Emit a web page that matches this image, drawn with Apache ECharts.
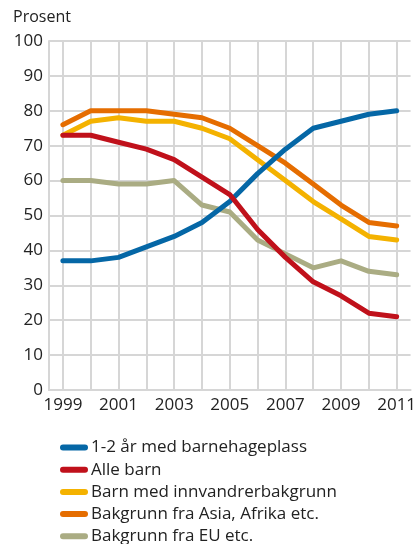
<!DOCTYPE html>
<html><head><meta charset="utf-8">
<script src="https://cdn.jsdelivr.net/npm/echarts@6/dist/echarts.min.js"></script>
<style>html,body{margin:0;padding:0;background:#fff}#c{width:419px;height:544px}</style>
</head><body><div id="c"></div>
<script>
const years = ['1999','2000','2001','2002','2003','2004','2005','2006','2007','2008','2009','2010','2011'];
const yTicks = [0,10,20,30,40,50,60,70,80,90,100];
const barnehage = [37,37,38,41,44,48,54,62,69,75,77,79,80];
const alleBarn = [73,73,71,69,66,61,56,46,38,31,27,22,21];
const innvandrer = [73,77,78,77,77,75,72,66,60,54,49,44,43];
const asiaAfrika = [76,80,80,80,79,78,75,70,65,59,53,48,47];
const eu = [60,60,59,59,60,53,51,43,39,35,37,34,33];
const names = ['1-2 år med barnehageplass','Alle barn','Barn med innvandrerbakgrunn','Bakgrunn fra Asia, Afrika etc.','Bakgrunn fra EU etc.'];
const colors = {blue:'#0567a6', red:'#c0111b', yellow:'#f4b200', orange:'#e56d00', olive:'#aaac83'};

const FONT = '"Open Sans", sans-serif';
const chart = echarts.init(document.getElementById('c'), null, {renderer:'canvas'});
function s(name, data, color){
  return {name, type:'line', data, symbol:'none', smooth:false, color,
    lineStyle:{width:5, color, cap:'round', join:'round'}, emphasis:{disabled:true}, animation:false};
}
const icon = 'path://M3,0 L25,0 A3,3 0 0 1 25,6 L3,6 A3,3 0 0 1 3,0 Z';
chart.setOption({
  animation:false,
  title:{text:'Prosent', left:8, top:4, textStyle:{fontFamily:FONT, fontSize:16, fontWeight:'normal', color:'#222'}},
  grid:{left:49, right:6, top:41, bottom:154, containLabel:false},
  xAxis:{type:'category', data:years, boundaryGap:true,
    axisLine:{show:true, lineStyle:{color:'#d6d6d6', width:2}},
    axisTick:{show:false},
    axisLabel:{interval:1, margin:7, fontFamily:FONT, fontSize:17, color:'#222'},
    splitLine:{show:true, interval:0, alignWithLabel:true, lineStyle:{color:'#d6d6d6', width:2}}},
  yAxis:{type:'value', min:yTicks[0], max:yTicks[yTicks.length-1], interval:10,
    axisLine:{show:true, lineStyle:{color:'#d6d6d6', width:2}},
    axisTick:{show:false},
    axisLabel:{margin:6, fontFamily:FONT, fontSize:17, color:'#222'},
    splitLine:{show:true, lineStyle:{color:'#d6d6d6', width:2}}},
  legend:{orient:'vertical', left:60, top:439, height:200, padding:0, itemWidth:28, itemHeight:6, itemGap:5.2, icon,
    data:names, selectedMode:false,
    textStyle:{fontFamily:FONT, fontSize:17, color:'#222', lineHeight:17, padding:[0,0,0,-2]}},
  series:[
    s(names[4], eu, colors.olive),
    s(names[3], asiaAfrika, colors.orange),
    s(names[2], innvandrer, colors.yellow),
    s(names[0], barnehage, colors.blue),
    s(names[1], alleBarn, colors.red)
  ]
});
</script></body></html>
